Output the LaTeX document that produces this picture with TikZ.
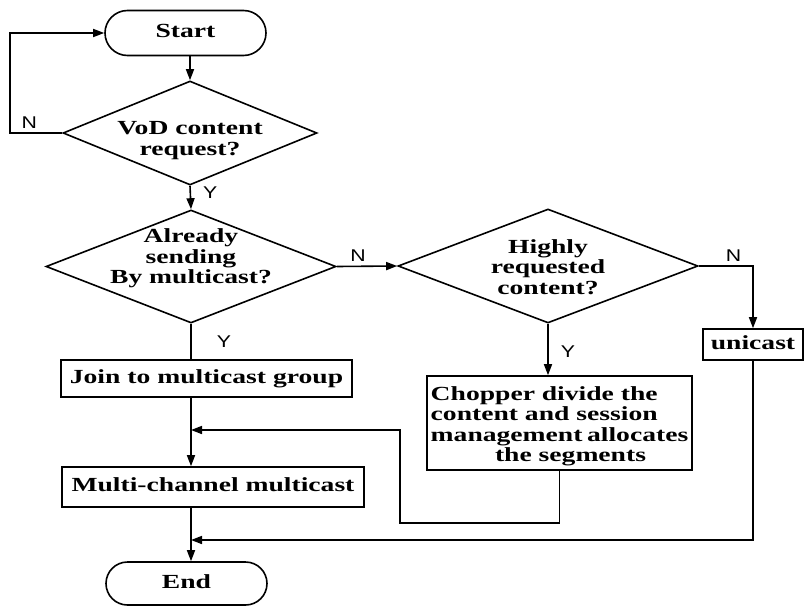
\documentclass[tikz,border=0pt]{standalone}
\usepackage{fontspec}
\setmainfont{Liberation Serif}
\newfontfamily\labelfont{Liberation Sans}
\usetikzlibrary{shapes.geometric,shapes.misc,arrows.meta}

% text of a shape: widened, centred, taking no room so the shape keeps its set size
\newcommand{\ntxt}[2][-6pt]{\smash{\makebox[0pt]{\raisebox{#1}{\scalebox{1.38}[1]{\begin{tabular}{@{}c@{}}#2\end{tabular}}}}}}
% same, with lines set flush left
\newcommand{\ltxt}[2][-6pt]{\smash{\makebox[0pt]{\raisebox{#1}{\scalebox{1.38}[1]{\begin{tabular}{@{}l@{}}#2\end{tabular}}}}}}
\newcommand{\wlab}[1]{\scalebox{1.25}[1]{#1}}

\begin{document}
\begin{tikzpicture}[x=1pt,y=-1pt,
  flow/.style={draw, line width=1.6pt, inner sep=0pt,
    font=\fontsize{20}{20.5}\selectfont\bfseries},
  term/.style={flow, rounded rectangle},
  decision/.style={flow, diamond},
  proc/.style={flow, rectangle},
  conn/.style={line width=1.6pt},
  arr/.style={conn, -{Triangle[length=11pt,width=8pt]}},
  lab/.style={font=\labelfont\fontsize{17}{17}\selectfont, inner sep=0pt}]
\useasboundingbox (0,0) rectangle (805,607);

% shapes
\node[term, minimum width=161, minimum height=45] (start) at (185.5,33) {\ntxt{Start}};
\node[decision, minimum width=254, minimum height=104] (d1) at (190,133)
  {\ntxt[-13pt]{VoD content\\request?}};
\node[decision, minimum width=290, minimum height=113] (d2) at (191,266.5)
  {\ntxt[2pt]{Already\\sending\\By multicast?}};
\node[decision, minimum width=300, minimum height=114] (d3) at (548,266)
  {\ntxt[-9pt]{Highly\\requested\\content?}};
\node[proc, minimum width=291, minimum height=37] (join) at (206.5,378.5)
  {\ntxt{Join to multicast group}};
\node[proc, minimum width=302, minimum height=40] (multi) at (213,487)
  {\ntxt{Multi-channel multicast}};
\node[proc, minimum width=265, minimum height=94] (chop) at (559.5,423)
  {\ltxt[-9pt]{Chopper divide the\\content and session\\management\,allocates\\\multicolumn{1}{c}{\hspace{16pt}the segments}}};
\node[proc, minimum width=100, minimum height=31] (uni) at (753,344.5)
  {\ntxt{unicast}};
\node[term, minimum width=161, minimum height=43] (end) at (186.5,583.5) {\ntxt{End}};

% routing points
\coordinate (loopL) at (10,0);
\coordinate (back) at (400,523);
\coordinate (m1) at (191,430);
\coordinate (m2) at (191,540);

% connectors
\draw[arr] (start.south -| d1.north) -- (d1.north);
\draw[arr] (d1.west) -- node[lab, above=4pt, pos=0.63]{\wlab{N}} (d1.west -| loopL) |- (start.west);
\draw[arr] (d1.south) -- node[lab, right=12pt, pos=0.3]{\wlab{Y}} (d2.north);
\draw[arr] (d2.east) -- node[lab, above=4pt, pos=0.35]{\wlab{N}} (d3.west);
\draw[conn] (d2.south) -- node[lab, right=25pt, pos=0.5]{\wlab{Y}} (d2.south |- join.north);
\draw[arr] (d3.east) -| node[lab, above=4pt, pos=0.32]{\wlab{N}} (uni.north);
\draw[arr] (d3.south) -- node[lab, right=12pt, pos=0.55]{\wlab{Y}} (d3.south |- chop.north);
\draw[arr] (d2.south |- join.south) -- (d2.south |- multi.north);
\draw[arr] (chop.south) |- (back) |- (m1);
\draw[arr] (d2.south |- multi.south) -- (d2.south |- end.north);
\draw[arr] (uni.south) |- (m2);
\end{tikzpicture}
\end{document}
